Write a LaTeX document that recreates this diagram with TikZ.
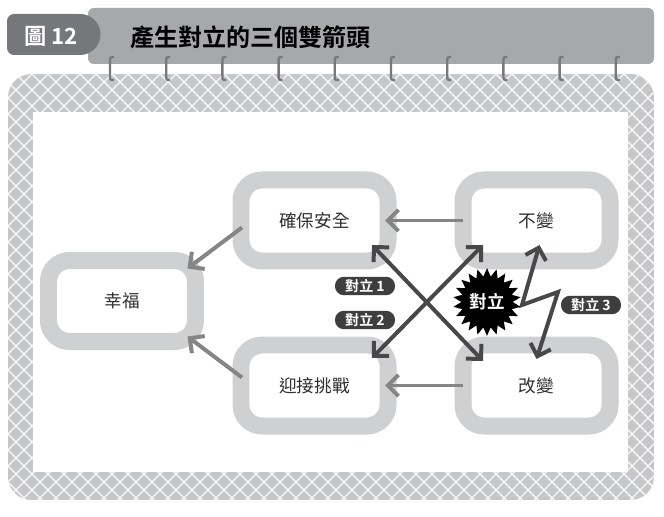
\documentclass[tikz,border=0pt]{standalone}
\usepackage{fontspec}
\newfontfamily\cjk{Noto Sans CJK TC}[BoldFont={Noto Sans CJK TC Bold}]
\usetikzlibrary{shapes.geometric, arrows.meta, positioning, calc}

\definecolor{boxgray}{HTML}{CFD0D2}
\definecolor{flowgray}{HTML}{858585}
\definecolor{clashgray}{HTML}{484848}
\definecolor{pillgray}{HTML}{3E3E3E}
\definecolor{panelgray}{HTML}{C6C7C9}
\definecolor{bargray}{HTML}{A7A8AA}
\definecolor{tabgray}{HTML}{76777A}
\definecolor{hookgray}{HTML}{77787B}
\definecolor{textgray}{HTML}{2F2F2F}

\begin{document}
\begin{tikzpicture}[
    x=0.03cm, y=-0.03cm,
    node distance=2.25cm,
    box/.style={rectangle, draw=boxgray, line width=14.5pt, fill=white, rounded corners=18pt, outer sep=0pt, inner sep=0pt, minimum width=4.41cm, minimum height=2.43cm, font=\cjk\fontsize{15}{18}\selectfont, text=textgray},
    flow/.style={-{Straight Barb[length=3.2mm, width=6.4mm]}, line width=3.4pt, draw=flowgray},
    clash/.style={{Straight Barb[length=3.2mm, width=6.4mm]}-{Straight Barb[length=3.2mm, width=6.4mm]}, line width=3.4pt, draw=clashgray},
    tag/.style={rectangle, rounded corners=7.5pt, fill=pillgray, text=white, minimum width=1.8cm, minimum height=0.55cm, inner sep=0pt, font=\cjk\bfseries\fontsize{12}{12}\selectfont},
    burst/.style={star, star points=22, star point ratio=1.32, fill=black, text=white, inner sep=0.5pt, font=\cjk\bfseries\fontsize{15}{15}\selectfont},
]
\useasboundingbox (0,0) rectangle (664,517);

% header
\fill[bargray, rounded corners=5pt] (88,8) rectangle (654,64);
\fill[tabgray, rounded corners=6pt] (7,14) rectangle (85,55);
\fill[tabgray] (80,34.5) circle[radius=0.615cm];
\node[text=white, font=\cjk\bfseries\fontsize{19}{19}\selectfont] (fignum) at (51,36) {圖 12};
\node[anchor=west, text=black, font=\cjk\bfseries\fontsize{20.5}{20.5}\selectfont] (title) at (126,37) {產生對立的三個雙箭頭};

% panel with cross pattern
\begin{scope}
  \clip[rounded corners=20pt] (8,74) rectangle (654,500);
  \fill[panelgray] (8,74) rectangle (654,500);
  \foreach \i in {-432,-416,...,1088}
    \draw[white!90!panelgray, line width=1.2pt] (\i,74) -- ++(430,430) (\i,74) -- ++(-430,430);
\end{scope}
\fill[white] (33,112) rectangle (628,472);

% hooks
\foreach \k in {0,...,9} {
  \pgfmathsetmacro\hx{110+56.2*\k}
  \draw[hookgray, line width=2pt] (\hx+4,57) .. controls (\hx,57) .. (\hx,63) -- (\hx,75) .. controls (\hx,80) .. (\hx+4,80);
}

\node[box] (happy) at (122,301) {幸福};
\node[box] (safe) at (314.5,220.5) {確保安全};
\node[box, right=of safe] (stable) {不變};
\node[box, below=2.52cm of safe] (challenge) {迎接挑戰};
\node[box, right=of challenge] (change) {改變};

\draw[flow] (stable.west) -- ($(safe.east)+(-3,0)$);
\draw[flow] (change.west) -- ($(challenge.east)+(-3,0)$);
\draw[flow] ($(safe.west)+(1,7)$) -- ($(happy.north east)+(-8,8)$);
\draw[flow] ($(challenge.west)+(1,-8)$) -- ($(happy.south east)+(-8,-5)$);

\draw[clash] ($(safe.south east)+(-16,-16)$) -- ($(change.north west)+(20,16)$);
\draw[clash] ($(stable.south west)+(20,-16)$) -- ($(challenge.north east)+(-16,13)$);

\coordinate (zigL) at (522,305);
\coordinate (zigR) at (558,292);
\draw[clash, line join=miter] ($(stable.south)+(3,-16)$) -- (zigL) -- (zigR) -- ($(change.north)+(0,14)$);

\node[tag] (tag1) at (365,286) {對立 1};
\node[tag] (tag2) at (365,320) {對立 2};
\node[tag] (tag3) at (591,305) {對立 3};
\node[burst] (clash) at (487,302) {對立};

\end{tikzpicture}
\end{document}
